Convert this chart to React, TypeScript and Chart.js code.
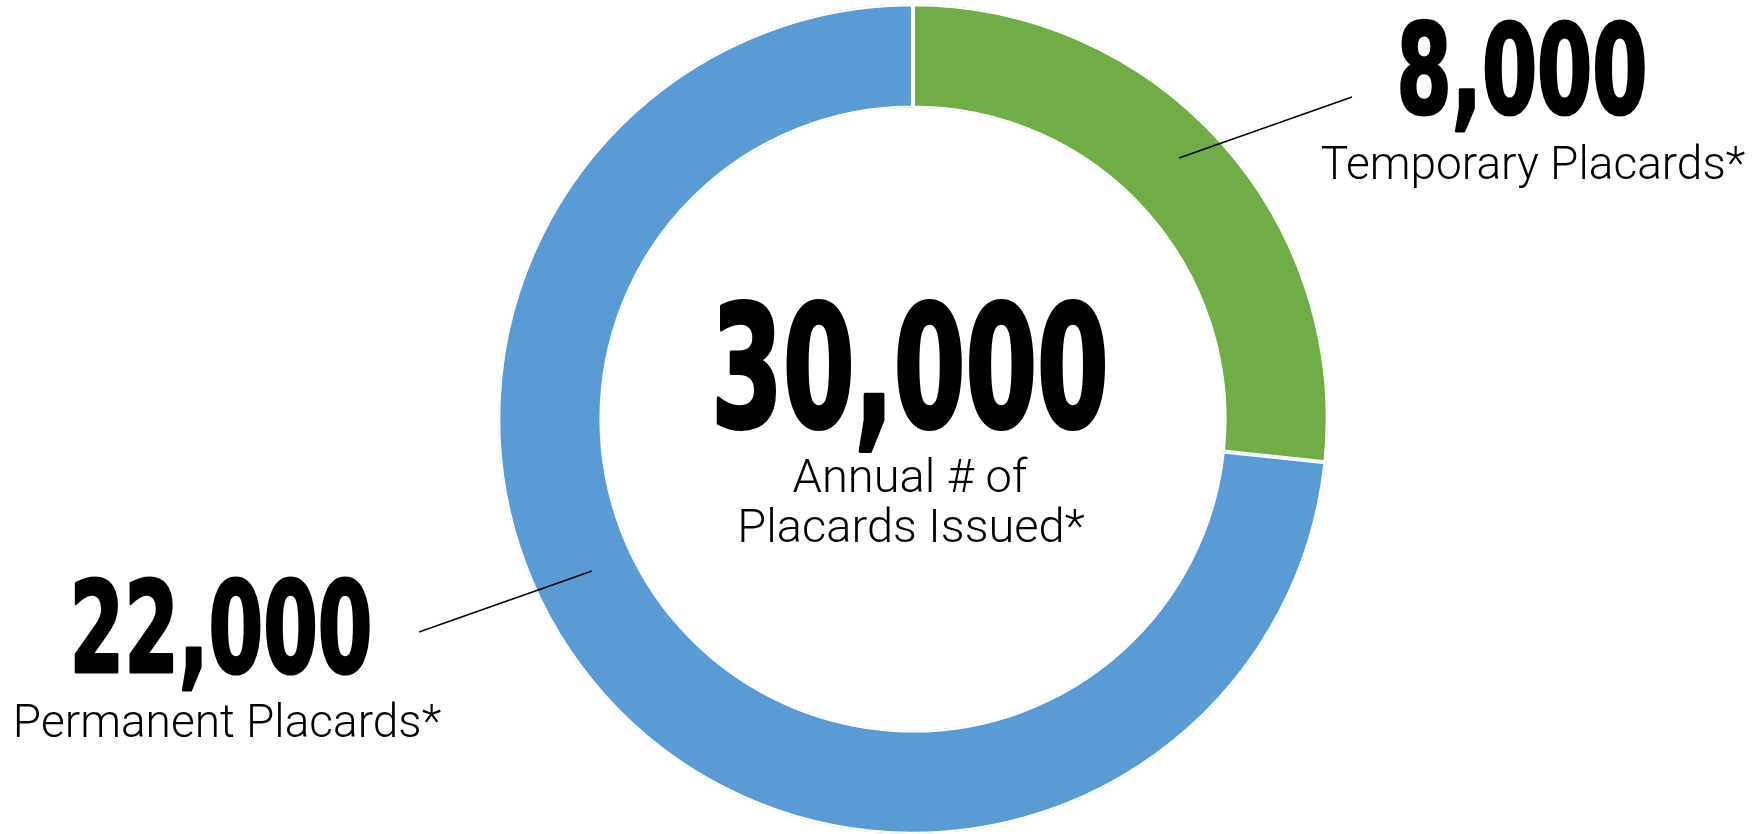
import React, { useEffect, useRef } from "react";
import { Chart, registerables } from "chart.js";

Chart.register(...registerables);

// ---- Data ----
const categories: string[] = ["Temporary Placards*", "Permanent Placards*"];
const values: number[] = [8000, 22000];
const colors: string[] = ["#70AD47", "#5B9BD5"];
const centerCaption: string[] = ["Annual # of", "Placards Issued*"];

const fmt = (n: number) => n.toLocaleString("en-US");

// ---- Annotation layout (offsets from the doughnut centre, px) ----
const calloutLines = [
  { from: [266, -261], to: [439, -322] },
  { from: [-321, 152], to: [-494, 213] },
];
const calloutNumbers = [
  { at: [609, -306], width: 253, size: 124 },
  { at: [-692, 253], width: 305, size: 127 },
];
const calloutTexts = [
  { at: [620, -240] },
  { at: [-686, 318] },
];

const BOLD_FONT = '"Liberation Sans Narrow", "DejaVu Sans Condensed", "Liberation Sans", sans-serif';
const LIGHT_FONT = 'Roboto, "Liberation Sans", "DejaVu Sans", sans-serif';

function drawText(
  ctx: CanvasRenderingContext2D,
  text: string,
  x: number,
  y: number,
  font: string,
  targetW?: number,
  stroke?: number
) {
  ctx.save();
  ctx.font = font;
  const w = ctx.measureText(text).width + (stroke || 0);
  const sx = targetW ? targetW / w : 1;
  ctx.translate(x, y);
  ctx.scale(sx, 1);
  ctx.textAlign = "center";
  ctx.textBaseline = "alphabetic";
  ctx.fillStyle = "#000";
  ctx.fillText(text, 0, 0);
  if (stroke) {
    ctx.lineWidth = stroke;
    ctx.strokeStyle = "#000";
    ctx.lineJoin = "round";
    ctx.strokeText(text, 0, 0);
  }
  ctx.restore();
}

const annotationPlugin = {
  id: "placardAnnotations",
  afterDraw(chart: any) {
    const ctx: CanvasRenderingContext2D = chart.ctx;
    const meta = chart.getDatasetMeta(0);
    const arc = meta.data[0];
    if (!arc) return;
    const cx = arc.x;
    const cy = arc.y;
    const total = values.reduce((a, b) => a + b, 0);

    // leader lines
    ctx.save();
    ctx.strokeStyle = "#000";
    ctx.lineWidth = 1.5;
    calloutLines.forEach((l) => {
      ctx.beginPath();
      ctx.moveTo(cx + l.from[0], cy + l.from[1]);
      ctx.lineTo(cx + l.to[0], cy + l.to[1]);
      ctx.stroke();
    });
    ctx.restore();

    // callout numbers and labels
    values.forEach((v, i) => {
      const n = calloutNumbers[i];
      drawText(ctx, fmt(v), cx + n.at[0], cy + n.at[1], `bold ${n.size}px ${BOLD_FONT}`, n.width, 3);
      const t = calloutTexts[i];
      drawText(ctx, categories[i], cx + t.at[0], cy + t.at[1], `300 46px ${LIGHT_FONT}`);
    });

    // centre
    drawText(ctx, fmt(total), cx - 3, cy + 8, `bold 170px ${BOLD_FONT}`, 400, 4);
    drawText(ctx, centerCaption[0], cx - 3, cy + 73, `300 47px ${LIGHT_FONT}`);
    drawText(ctx, centerCaption[1], cx - 2, cy + 123, `300 47px ${LIGHT_FONT}`);
  },
};

export default function App() {
  const canvasRef = useRef<HTMLCanvasElement | null>(null);

  useEffect(() => {
    document.body.style.margin = "0";
    const canvas = canvasRef.current;
    if (!canvas) return;
    const chart = new Chart(canvas, {
      type: "doughnut",
      data: {
        labels: categories,
        datasets: [
          {
            data: values,
            backgroundColor: colors,
            borderColor: "#ffffff",
            borderWidth: 2,
            borderAlign: "inner",
            hoverOffset: 0,
          } as any,
        ],
      },
      options: {
        responsive: false,
        animation: false,
        cutout: "75%",
        layout: { padding: { left: 64, right: 0, top: 4, bottom: 0 } },
        plugins: {
          legend: { display: false },
          tooltip: { enabled: false },
        },
        events: [],
      },
      plugins: [annotationPlugin],
    });
    return () => chart.destroy();
  }, []);

  return (
    <div style={{ position: "absolute", left: 0, top: 0, width: 1762, height: 834, background: "#fff" }}>
      <canvas ref={canvasRef} width={1762} height={834} style={{ display: "block" }} />
    </div>
  );
}
